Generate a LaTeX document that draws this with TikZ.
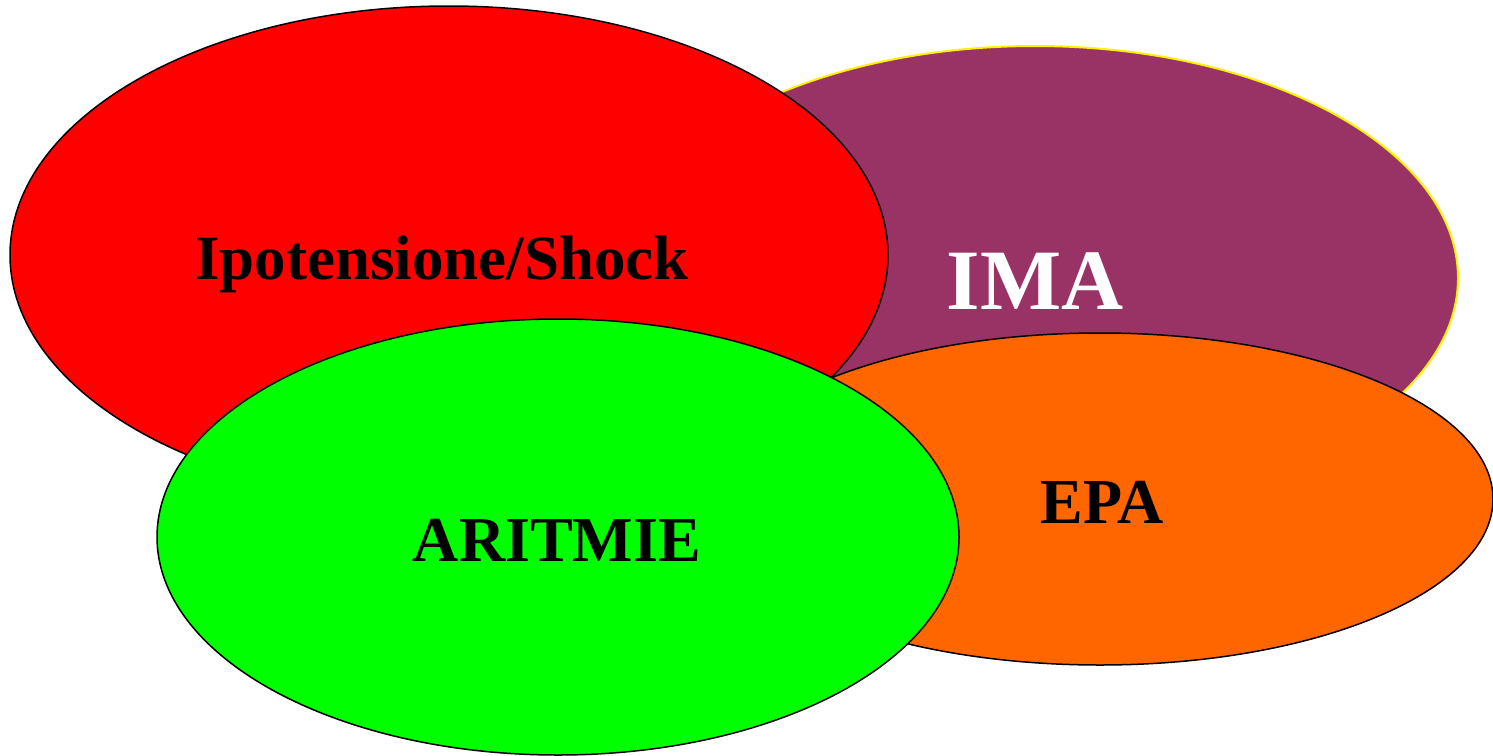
\documentclass[tikz,border=0pt]{standalone}
\usepackage{fontspec}
\setmainfont{Liberation Serif}
\usetikzlibrary{shapes.geometric}
\definecolor{imacol}{HTML}{993366}
\definecolor{epacol}{HTML}{FF6600}
\definecolor{aritcol}{HTML}{00FF00}
\definecolor{shockcol}{HTML}{FF0000}
\begin{document}
\begin{tikzpicture}[x=1pt,y=-1pt,
  blob/.style={draw=black,line width=1.5pt},
  lbl/.style={font=\bfseries\fontsize{#1}{#1}\selectfont,inner sep=0pt}]
\useasboundingbox (0,0) rectangle (1493,755);
% IMA
\path[fill=imacol,draw=yellow,line width=2pt] (1035,278) ellipse [x radius=423,y radius=232];
% Ipotensione/Shock
\path[blob,fill=shockcol] (449,255) ellipse [x radius=439,y radius=249];
% EPA
\path[blob,fill=epacol] (1100,499) ellipse [x radius=393,y radius=166];
% ARITMIE
\path[blob,fill=aritcol] (558,537) ellipse [x radius=401,y radius=218];
\node[lbl=63] (shock) at (442,264) {Ipotensione/Shock};
\node[lbl=86,text=white] (ima) at (1035,281) {IMA};
\node[lbl=64] (epa) at (1102,502) {EPA};
\node[lbl=64] (arit) at (557,540) {ARITMIE};
\end{tikzpicture}
\end{document}
